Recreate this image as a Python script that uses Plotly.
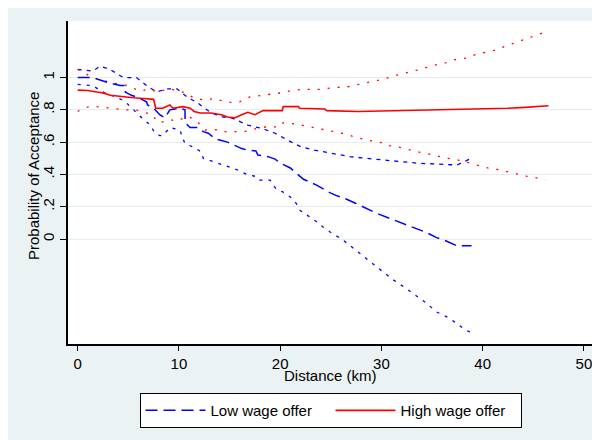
import plotly.graph_objects as go

# Low wage offer: estimate and confidence band
low_x = [0, 1.4, 2.2, 3.2, 4.2, 4.7, 4.7, 5.3, 5.8, 6.8, 6.9, 7.5, 8.1, 8.6, 8.9, 9.1, 10.1, 10.6, 10.6,
         11.1, 11.9, 12.4, 12.9, 13.6, 14.2, 14.8, 15.5, 16.2, 16.8, 17.6, 17.8, 18.8, 19.5, 20, 21, 21.8,
         22.3, 23.6, 24.2, 24.9, 25.5, 26.2, 27.5, 28.2, 29.5, 30.8, 32.1, 33.5, 34.5, 35.4, 36.4, 37.4, 38.9]
low_est = [1.0, 1.0, 0.985, 0.965, 0.95, 0.95, 0.91, 0.89, 0.88, 0.85, 0.83, 0.81, 0.77, 0.75, 0.78, 0.80,
           0.81, 0.80, 0.72, 0.69, 0.69, 0.665, 0.655, 0.62, 0.61, 0.60, 0.58, 0.56, 0.55, 0.545, 0.52, 0.51,
           0.495, 0.47, 0.44, 0.40, 0.37, 0.334, 0.31, 0.287, 0.27, 0.256, 0.22, 0.20, 0.16, 0.128, 0.098,
           0.066, 0.039, 0.01, -0.012, -0.041, -0.041]

low_up_x = [0, 1.5, 2.2, 3.2, 4.5, 5.8, 6.8, 7.8, 8.8, 9.8, 10.8, 11.9, 13.2, 14.2, 15.2, 16.8, 18.2,
            19.5, 20.8, 22.1, 23.4, 24.2, 25.9, 26.9, 30.1, 33.5, 36.8, 37.5, 38.9]
low_up = [1.05, 1.04, 1.07, 1.05, 1.0, 1.0, 0.95, 0.91, 0.93, 0.93, 0.88, 0.84, 0.78, 0.757, 0.75, 0.705,
          0.685, 0.655, 0.61, 0.57, 0.55, 0.54, 0.52, 0.51, 0.49, 0.47, 0.46, 0.46, 0.50]

low_lo_x = [0, 1.5, 2.2, 2.8, 3.8, 4.7, 5.2, 5.8, 6.5, 7.1, 7.6, 8.1, 8.4, 9.1, 10.1, 10.4, 10.6, 11.4,
            12.2, 12.4, 13.4, 14.4, 15.7, 16.7, 17.7, 18, 19, 19.6, 20.3, 21, 21.6, 21.9, 22.9, 23.6, 24.2,
            24.9, 26.2, 27.2, 28.2, 29.2, 30.1, 31.1, 32.3, 33.5, 34.5, 35.4, 36.4, 37.4, 38.2, 38.9]
low_lo = [0.958, 0.95, 0.92, 0.90, 0.88, 0.85, 0.82, 0.78, 0.74, 0.71, 0.66, 0.64, 0.64, 0.69, 0.675, 0.62,
          0.59, 0.57, 0.54, 0.50, 0.48, 0.46, 0.43, 0.40, 0.386, 0.365, 0.365, 0.31, 0.29, 0.26, 0.22, 0.18,
          0.138, 0.107, 0.076, 0.045, -0.006, -0.057, -0.105, -0.155, -0.2, -0.25, -0.30, -0.357, -0.40,
          -0.45, -0.48, -0.52, -0.56, -0.58]

# High wage offer: estimate and confidence band
high_x = [0, 1.0, 1.9, 2.5, 3.2, 4.5, 5.5, 6.5, 7.5, 7.7, 8.4, 9.1, 9.4, 10.4, 11.1, 11.5, 12.1, 13.2,
          14.2, 14.8, 15.5, 16.2, 16.8, 17.5, 18.3, 20.2, 20.3, 21.8, 21.9, 24.4, 24.6, 27.7, 31.8, 35.8,
          38.4, 42.5, 44.2, 45.8, 46.5]
high_est = [0.922, 0.92, 0.91, 0.905, 0.89, 0.88, 0.875, 0.87, 0.865, 0.81, 0.81, 0.83, 0.81, 0.82, 0.81,
            0.79, 0.78, 0.78, 0.77, 0.755, 0.75, 0.77, 0.785, 0.77, 0.795, 0.795, 0.82, 0.82, 0.81, 0.805,
            0.795, 0.79, 0.795, 0.80, 0.803, 0.81, 0.815, 0.82, 0.825]

high_up_x = [0, 1.5, 3.2, 4.9, 6.2, 7.1, 7.8, 9.1, 10.4, 11.6, 12.7, 13.4, 14, 15.2, 16, 17, 18.2, 19.3,
             20.1, 21.1, 22.4, 23.9, 25.2, 26.7, 27.9, 29.2, 30.2, 31.8, 33, 33.8, 35.3, 36.3, 37.2, 38.3,
             39.2, 40.3, 41.3, 42.3, 43.8, 44.5, 45.5, 46.1]
high_up = [1.05, 1.0, 0.97, 0.95, 0.915, 0.93, 0.91, 0.93, 0.91, 0.87, 0.86, 0.87, 0.86, 0.845, 0.85, 0.88,
           0.89, 0.90, 0.905, 0.92, 0.927, 0.927, 0.937, 0.943, 0.96, 0.975, 0.99, 1.02, 1.036, 1.05, 1.077,
           1.09, 1.11, 1.12, 1.14, 1.156, 1.17, 1.195, 1.228, 1.243, 1.263, 1.28]

high_lo_x = [0, 0.5, 1.2, 1.9, 4.7, 5.7, 7.4, 7.8, 8.1, 8.6, 9.1, 9.8, 10.8, 11.6, 12.6, 13.2, 14, 14.5,
             16.5, 17.7, 18.7, 20, 20.3, 21.6, 24.1, 25.1, 26.1, 27.5, 28.5, 29.8, 30.4, 31.8, 32.8, 33.8,
             35.2, 36.2, 37.6, 38.6, 39.5, 40.5, 41.9, 42.8, 43.7, 44.3, 45.2, 46.2]
high_lo = [0.79, 0.81, 0.82, 0.82, 0.80, 0.80, 0.77, 0.73, 0.72, 0.73, 0.74, 0.73, 0.76, 0.74, 0.675, 0.68,
           0.675, 0.665, 0.665, 0.685, 0.695, 0.695, 0.72, 0.712, 0.68, 0.665, 0.655, 0.63, 0.613, 0.602,
           0.582, 0.568, 0.551, 0.537, 0.52, 0.503, 0.489, 0.472, 0.458, 0.44, 0.427, 0.41, 0.40, 0.39,
           0.38, 0.365]

y_ticks = [0, 0.2, 0.4, 0.6, 0.8, 1]
y_labels = ["0", ".2", ".4", ".6", ".8", "1"]
x_ticks = [0, 10, 20, 30, 40, 50]

BLUE = "#0000FF"
RED = "#FF0000"
FONT = "Liberation Sans, Arial, sans-serif"

fig = go.Figure()
fig.add_trace(go.Scatter(x=low_up_x, y=low_up, mode="lines", showlegend=False,
                         line=dict(color=BLUE, width=1.3, dash="4px,5px")))
fig.add_trace(go.Scatter(x=low_lo_x, y=low_lo, mode="lines", showlegend=False,
                         line=dict(color=BLUE, width=1.3, dash="3px,6px")))
fig.add_trace(go.Scatter(x=high_up_x, y=high_up, mode="lines", showlegend=False,
                         line=dict(color=RED, width=1.3, dash="2px,8px")))
fig.add_trace(go.Scatter(x=high_lo_x, y=high_lo, mode="lines", showlegend=False,
                         line=dict(color=RED, width=1.3, dash="2px,8px")))
fig.add_trace(go.Scatter(x=low_x, y=low_est, mode="lines", name="Low wage offer",
                         line=dict(color=BLUE, width=1.5, dash="12px,6px")))
fig.add_trace(go.Scatter(x=high_x, y=high_est, mode="lines", name="High wage offer",
                         line=dict(color=RED, width=1.6)))

# page body adds an 8px offset, so the figure is 8px smaller than the window
fig.update_layout(
    width=592, height=432,
    margin=dict(l=60, r=7, t=13, b=96),
    paper_bgcolor="#EAF2F3",
    plot_bgcolor="white",
    font=dict(family=FONT, size=15, color="black"),
    annotations=[
        dict(text="Distance (km)", xref="paper", yref="paper", x=0.5, y=-0.099,
             xanchor="center", yanchor="middle", showarrow=False, font=dict(size=15)),
        dict(text="Probability of Acceptance", xref="paper", yref="paper", x=-0.0667, y=0.52,
             xanchor="center", yanchor="middle", textangle=-90, showarrow=False, font=dict(size=15)),
    ],
    legend=dict(orientation="h", x=0.5, xanchor="center", y=-0.152, yanchor="top",
                bgcolor="white", bordercolor="black", borderwidth=1,
                font=dict(size=15), itemwidth=60, entrywidth=115, traceorder="normal"),
)
fig.update_xaxes(range=[-0.96, 50.9], tickvals=x_ticks, showgrid=False, zeroline=False,
                 showline=True, linecolor="black", linewidth=1.5, ticks="outside", ticklen=5,
                 tickcolor="black", automargin=False)
fig.update_yaxes(range=[-0.65, 1.35], tickvals=y_ticks, ticktext=y_labels, tickangle=-90,
                 showgrid=True, gridcolor="#E3EDEF", gridwidth=1, zeroline=False,
                 showline=True, linecolor="black", linewidth=1.5, ticks="outside", ticklen=6,
                 tickcolor="black", automargin=False)

fig.write_html("out.html")
